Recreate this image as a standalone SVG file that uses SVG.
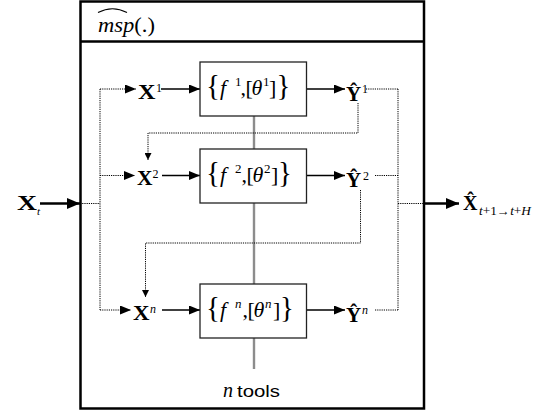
<svg xmlns="http://www.w3.org/2000/svg" width="545" height="413" viewBox="0 0 545 413">
<style>
.m{font-family:"Liberation Serif","Times New Roman",serif;fill:#000}
.s{font-family:"Liberation Sans",Arial,sans-serif;fill:#000}
.b{font-weight:bold}
.i{font-style:italic}
.frame{fill:none;stroke:#000;stroke-width:2.5}
.box{fill:#fff;stroke:#222;stroke-width:1.3}
.solid{fill:none;stroke:#000;stroke-width:1.3}
.thick{fill:none;stroke:#000;stroke-width:2.5}
.dot{fill:none;stroke:#000;stroke-width:1;stroke-dasharray:1.2 1}
.gray{fill:none;stroke:#8c8c8c;stroke-width:2.4}
</style>
<defs>
<marker id="ah" markerUnits="userSpaceOnUse" markerWidth="11" markerHeight="9" refX="11" refY="4.5" orient="auto"><path d="M0,0 L11,4.5 L0,9 z" fill="#000"/></marker>
<marker id="ahBig" markerUnits="userSpaceOnUse" markerWidth="13" markerHeight="11" refX="13" refY="5.5" orient="auto"><path d="M0,0 L13,5.5 L0,11 z" fill="#000"/></marker>
<marker id="ahSm" markerUnits="userSpaceOnUse" markerWidth="7" markerHeight="7" refX="7" refY="3.5" orient="auto"><path d="M0,0 L7,3.5 L0,7 z" fill="#000"/></marker>
</defs>

<g id="frame">
<rect class="frame" x="80.5" y="1.5" width="343.5" height="407"/>
<line class="frame" x1="80" y1="41.5" x2="424" y2="41.5"/>
<text class="m" x="98" y="31.5" font-size="20" textLength="57" lengthAdjust="spacingAndGlyphs"><tspan class="i">msp</tspan>(.)</text>
<path d="M98,12.5 Q112.5,5 127,12.5" fill="none" stroke="#000" stroke-width="1.1"/>
</g>

<g id="connectors">
<line class="gray" x1="254" y1="116" x2="254" y2="149"/>
<line class="gray" x1="254" y1="203" x2="254" y2="284"/>
<line class="gray" x1="254" y1="338" x2="254" y2="369"/>
<line class="thick" x1="40" y1="203.5" x2="80" y2="203.5" marker-end="url(#ahBig)"/>
<line class="dot" x1="80" y1="203.5" x2="100" y2="203.5"/>
<line class="dot" x1="100" y1="89" x2="100" y2="310"/>
<line class="dot" x1="100" y1="89" x2="136" y2="89" marker-end="url(#ah)"/>
<line class="dot" x1="100" y1="175.5" x2="135" y2="175.5" marker-end="url(#ah)"/>
<line class="dot" x1="100" y1="310" x2="131" y2="310" marker-end="url(#ah)"/>
<line class="solid" x1="161" y1="89" x2="200" y2="89" marker-end="url(#ah)"/>
<line class="solid" x1="162" y1="175.5" x2="200" y2="175.5" marker-end="url(#ah)"/>
<line class="solid" x1="162" y1="310" x2="200" y2="310" marker-end="url(#ah)"/>
<line class="solid" x1="306.5" y1="89" x2="345" y2="89" marker-end="url(#ah)"/>
<line class="solid" x1="306.5" y1="175.5" x2="345" y2="175.5" marker-end="url(#ah)"/>
<line class="solid" x1="306.5" y1="310" x2="345" y2="310" marker-end="url(#ah)"/>
<polyline class="dot" points="358,103 358,133 148,133 148,160" marker-end="url(#ahSm)"/>
<polyline class="dot" points="360.5,190 360.5,243 145.5,243 145.5,297" marker-end="url(#ahSm)"/>
<line class="dot" x1="366" y1="89" x2="398" y2="89"/>
<line class="dot" x1="375" y1="175.5" x2="398" y2="175.5"/>
<line class="dot" x1="375" y1="310" x2="398" y2="310"/>
<line class="dot" x1="398" y1="89" x2="398" y2="310"/>
<line class="dot" x1="398" y1="203.5" x2="424" y2="203.5"/>
<line class="thick" x1="424" y1="203.5" x2="459" y2="203.5" marker-end="url(#ahBig)"/>
</g>

<g id="input">
<text class="m b" x="17" y="210" font-size="21" textLength="20" lengthAdjust="spacingAndGlyphs">X</text>
<text class="m i" x="37" y="215" font-size="11">t</text>
</g>

<g id="output">
<text class="m b" x="463" y="210" font-size="20">X̂</text>
<text class="m" x="479" y="215" font-size="12" textLength="52" lengthAdjust="spacingAndGlyphs"><tspan class="i">t</tspan>+1→<tspan class="i">t</tspan>+<tspan class="i">H</tspan></text>
</g>

<g id="x1">
<text class="m b" x="138" y="98.5" font-size="21" textLength="17.5" lengthAdjust="spacingAndGlyphs">X</text>
<text class="m" x="156" y="91.5" font-size="12">1</text>
</g>
<g id="x2">
<text class="m b" x="137" y="185" font-size="21" textLength="15.5" lengthAdjust="spacingAndGlyphs">X</text>
<text class="m" x="152.5" y="178" font-size="12">2</text>
</g>
<g id="xn">
<text class="m b" x="133" y="319.5" font-size="21" textLength="16.5" lengthAdjust="spacingAndGlyphs">X</text>
<text class="m i" x="150" y="312.5" font-size="12">n</text>
</g>

<g id="tool1">
<rect class="box" x="200" y="62" width="106.5" height="54"/>
<text class="m" y="95" font-size="22"><tspan x="206" font-size="29">{</tspan><tspan x="220" class="i">f</tspan><tspan x="235" y="86" font-size="13">1</tspan><tspan x="240.5" y="95">,</tspan><tspan x="245.5">[</tspan><tspan x="251.5" class="i">θ</tspan><tspan x="263" y="86" font-size="13">1</tspan><tspan x="269" y="95">]</tspan><tspan x="276.5" font-size="29">}</tspan></text>
</g>
<g id="tool2">
<rect class="box" x="200" y="149" width="106.5" height="54"/>
<text class="m" y="182" font-size="22"><tspan x="206" font-size="29">{</tspan><tspan x="220" class="i">f</tspan><tspan x="235" y="173" font-size="13">2</tspan><tspan x="241.5" y="182">,</tspan><tspan x="246.5">[</tspan><tspan x="252.5" class="i">θ</tspan><tspan x="264" y="173" font-size="13">2</tspan><tspan x="271" y="182">]</tspan><tspan x="278" font-size="29">}</tspan></text>
</g>
<g id="tooln">
<rect class="box" x="200" y="284" width="106.5" height="54"/>
<text class="m" y="317" font-size="22"><tspan x="206" font-size="29">{</tspan><tspan x="220" class="i">f</tspan><tspan x="235" y="308" font-size="13" class="i">n</tspan><tspan x="242.5" y="317">,</tspan><tspan x="247.5">[</tspan><tspan x="253.5" class="i">θ</tspan><tspan x="265" y="308" font-size="13" class="i">n</tspan><tspan x="273" y="317">]</tspan><tspan x="280" font-size="29">}</tspan></text>
</g>

<g id="y1">
<text class="m b" x="346" y="100.5" font-size="21">Ŷ</text>
<text class="m" x="362" y="93" font-size="12">1</text>
</g>
<g id="y2">
<text class="m b" x="346" y="187" font-size="21">Ŷ</text>
<text class="m" x="363" y="179.5" font-size="12">2</text>
</g>
<g id="yn">
<text class="m b" x="346" y="321.5" font-size="21">Ŷ</text>
<text class="m i" x="362" y="314" font-size="12">n</text>
</g>

<g id="tools-label">
<text class="m i" x="223" y="397" font-size="20">n</text>
<text class="s" x="237" y="397" font-size="16" textLength="43" lengthAdjust="spacingAndGlyphs">tools</text>
</g>
</svg>
